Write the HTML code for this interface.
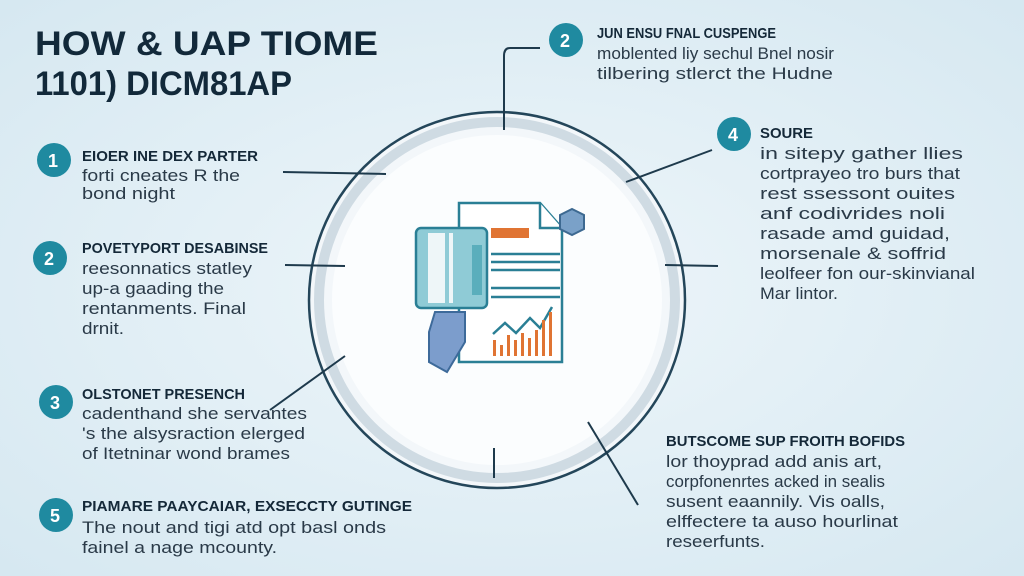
<!DOCTYPE html>
<html><head><meta charset="utf-8"><style>
body{margin:0;width:1024px;height:576px;overflow:hidden;background:#dfeef5;}
svg{display:block}
text{font-family:"Liberation Sans",sans-serif;fill:#1c2f3e}
.h{font-weight:bold;font-size:15px;fill:#142838}
.b{font-size:17px;fill:#2a3a48}
.n{font-weight:bold;font-size:18px;fill:#fff}
</style></head><body>
<svg width="1024" height="576" viewBox="0 0 1024 576">
<defs><radialGradient id="bg" cx="50%" cy="50%" r="70%"><stop offset="0" stop-color="#eef6fa"/><stop offset="1" stop-color="#d6e8f1"/></radialGradient></defs>
<rect width="1024" height="576" fill="url(#bg)"/>
<circle cx="497" cy="300" r="188" fill="#f3f7fa" stroke="#24465a" stroke-width="2.5"/>
<circle cx="497" cy="300" r="178" fill="none" stroke="#cfdbe3" stroke-width="10"/>
<circle cx="497" cy="300" r="165" fill="#fbfdfe"/>
<g stroke="#1e3a4c" stroke-width="2" fill="none">
<line x1="283" y1="172" x2="386" y2="174"/>
<line x1="285" y1="265" x2="345" y2="266"/>
<line x1="270" y1="410" x2="345" y2="356"/>
<path d="M540 48 L510 48 Q504 48 504 56 L504 130"/>
<line x1="712" y1="150" x2="626" y2="182"/>
<line x1="665" y1="265" x2="718" y2="266"/>
<line x1="588" y1="422" x2="638" y2="505"/>
<line x1="494" y1="448" x2="494" y2="478"/>
</g>
<g stroke="#2a7f95" stroke-width="2.5" fill="none">
<path d="M459 203 L540 203 L562 228 L562 362 L459 362 Z" fill="#fff"/>
<path d="M540 203 L540 228 L562 228" fill="#fff"/>
<rect x="416" y="228" width="71" height="80" rx="5" fill="#8fcbd6"/>
</g>
<rect x="428" y="233" width="17" height="70" fill="#eef6f8"/>
<rect x="449" y="233" width="4" height="70" fill="#eef6f8"/>
<rect x="472" y="245" width="10" height="50" fill="#5aaebc"/>
<rect x="491" y="228" width="38" height="10" fill="#e07433"/>
<g stroke="#2a7f95" stroke-width="2.5">
<line x1="491" y1="254" x2="560" y2="254"/><line x1="491" y1="262" x2="560" y2="262"/><line x1="491" y1="270" x2="560" y2="270"/>
<line x1="491" y1="288" x2="560" y2="288"/><line x1="491" y1="297" x2="560" y2="297"/>
</g>
<path d="M560 215 l12 -6 l12 6 v14 l-12 6 l-12 -6z" fill="#7aa1c8" stroke="#3d6991" stroke-width="2"/>
<path d="M435 312 h30 v30 l-18 30 l-18 -10 v-30z" fill="#7c9dcc" stroke="#3d6a9a" stroke-width="2"/>
<polyline points="493,334 505,323 516,333 530,318 540,328 552,307" fill="none" stroke="#2a7f95" stroke-width="2.5"/>
<g fill="#e07433"><rect x="493" y="340" width="3" height="16"/><rect x="500" y="345" width="3" height="11"/><rect x="507" y="335" width="3" height="21"/><rect x="514" y="340" width="3" height="16"/><rect x="521" y="333" width="3" height="23"/><rect x="528" y="338" width="3" height="18"/><rect x="535" y="330" width="3" height="26"/><rect x="542" y="320" width="3" height="36"/><rect x="549" y="312" width="3" height="44"/></g>
<text x="35" y="55" textLength="343" lengthAdjust="spacingAndGlyphs" style="font-weight:bold;font-size:34px;fill:#12293a">HOW &amp; UAP TIOME</text>
<text x="35" y="95" textLength="257" lengthAdjust="spacingAndGlyphs" style="font-weight:bold;font-size:34px;fill:#12293a">1101) DICM81AP</text>
<g fill="#1f8aa0">
<circle cx="54" cy="160" r="17"/><circle cx="50" cy="258" r="17"/><circle cx="56" cy="402" r="17"/><circle cx="56" cy="515" r="17"/>
<circle cx="566" cy="40" r="17"/><circle cx="734" cy="134" r="17"/>
</g>
<text class="n" x="48" y="167">1</text><text class="n" x="44" y="265">2</text><text class="n" x="50" y="409">3</text><text class="n" x="50" y="522">5</text>
<text class="n" x="560" y="47">2</text><text class="n" x="728" y="141">4</text>
<text class="h" x="82" y="161" textLength="176" lengthAdjust="spacingAndGlyphs">EIOER INE DEX PARTER</text>
<text class="b" x="82" y="181" textLength="158" lengthAdjust="spacingAndGlyphs">forti cneates R the</text>
<text class="b" x="82" y="199" textLength="93" lengthAdjust="spacingAndGlyphs">bond night</text>
<text class="h" x="82" y="253" textLength="186" lengthAdjust="spacingAndGlyphs">POVETYPORT DESABINSE</text>
<text class="b" x="82" y="274" textLength="170" lengthAdjust="spacingAndGlyphs">reesonnatics statley</text>
<text class="b" x="82" y="294" textLength="142" lengthAdjust="spacingAndGlyphs">up-a gaading the</text>
<text class="b" x="82" y="314" textLength="164" lengthAdjust="spacingAndGlyphs">rentanments. Final</text>
<text class="b" x="82" y="334" textLength="42" lengthAdjust="spacingAndGlyphs">drnit.</text>
<text class="h" x="82" y="399" textLength="163" lengthAdjust="spacingAndGlyphs">OLSTONET PRESENCH</text>
<text class="b" x="82" y="419" textLength="225" lengthAdjust="spacingAndGlyphs">cadenthand she servantes</text>
<text class="b" x="82" y="439" textLength="223" lengthAdjust="spacingAndGlyphs">'s the alsysraction elerged</text>
<text class="b" x="82" y="459" textLength="208" lengthAdjust="spacingAndGlyphs">of Itetninar wond brames</text>
<text class="h" x="82" y="511" textLength="330" lengthAdjust="spacingAndGlyphs">PIAMARE PAAYCAIAR, EXSECCTY GUTINGE</text>
<text class="b" x="82" y="533" textLength="304" lengthAdjust="spacingAndGlyphs">The nout and tigi atd opt basl onds</text>
<text class="b" x="82" y="553" textLength="195" lengthAdjust="spacingAndGlyphs">fainel a nage mcounty.</text>
<text class="h" x="597" y="38" textLength="179" lengthAdjust="spacingAndGlyphs">JUN ENSU FNAL CUSPENGE</text>
<text class="b" x="597" y="59" textLength="237" lengthAdjust="spacingAndGlyphs">moblented liy sechul Bnel nosir</text>
<text class="b" x="597" y="79" textLength="236" lengthAdjust="spacingAndGlyphs">tilbering stlerct the Hudne</text>
<text class="h" x="760" y="138" textLength="53" lengthAdjust="spacingAndGlyphs">SOURE</text>
<text class="b" x="760" y="159" textLength="203" lengthAdjust="spacingAndGlyphs">in sitepy gather llies</text>
<text class="b" x="760" y="179" textLength="200" lengthAdjust="spacingAndGlyphs">cortprayeo tro burs that</text>
<text class="b" x="760" y="199" textLength="195" lengthAdjust="spacingAndGlyphs">rest ssessont ouites</text>
<text class="b" x="760" y="219" textLength="185" lengthAdjust="spacingAndGlyphs">anf codivrides noli</text>
<text class="b" x="760" y="239" textLength="190" lengthAdjust="spacingAndGlyphs">rasade amd guidad,</text>
<text class="b" x="760" y="259" textLength="186" lengthAdjust="spacingAndGlyphs">morsenale &amp; soffrid</text>
<text class="b" x="760" y="279" textLength="215" lengthAdjust="spacingAndGlyphs">leolfeer fon our-skinvianal</text>
<text class="b" x="760" y="299" textLength="78" lengthAdjust="spacingAndGlyphs">Mar lintor.</text>
<text class="h" x="666" y="446" textLength="239" lengthAdjust="spacingAndGlyphs">BUTSCOME SUP FROITH BOFIDS</text>
<text class="b" x="666" y="467" textLength="216" lengthAdjust="spacingAndGlyphs">lor thoyprad add anis art,</text>
<text class="b" x="666" y="487" textLength="219" lengthAdjust="spacingAndGlyphs">corpfonenrtes acked in sealis</text>
<text class="b" x="666" y="507" textLength="219" lengthAdjust="spacingAndGlyphs">susent eaannily. Vis oalls,</text>
<text class="b" x="666" y="527" textLength="232" lengthAdjust="spacingAndGlyphs">elffectere ta auso hourlinat</text>
<text class="b" x="666" y="547" textLength="99" lengthAdjust="spacingAndGlyphs">reseerfunts.</text>
</svg>
</body></html>
